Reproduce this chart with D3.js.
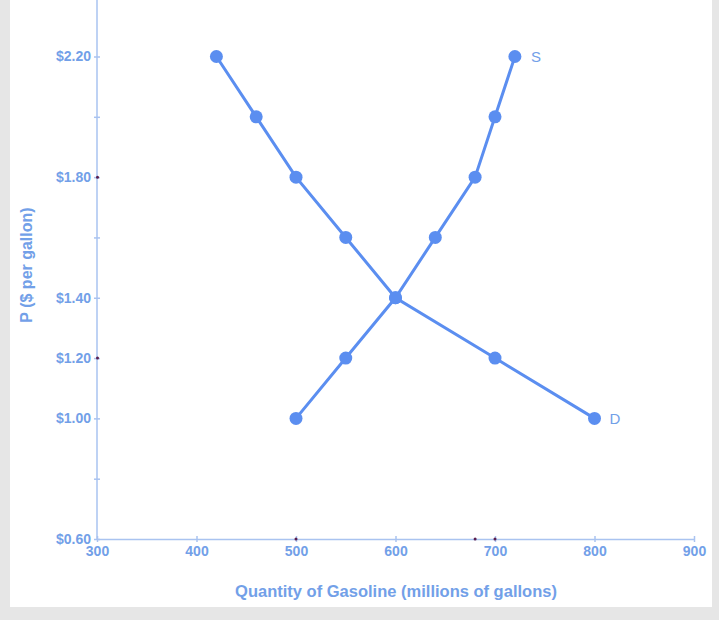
<!DOCTYPE html>
<html><head><meta charset="utf-8">
<script src="https://cdn.jsdelivr.net/npm/d3@7"></script>
<style>html,body{margin:0;padding:0;background:#e6e6e6;}svg{display:block;}</style>
</head><body>
<script>
const demandQ = [420, 460, 500, 550, 600, 700, 800];
const demandP = [2.2, 2.0, 1.8, 1.6, 1.4, 1.2, 1.0];
const supplyQ = [500, 550, 600, 640, 680, 700, 720];
const supplyP = [1.0, 1.2, 1.4, 1.6, 1.8, 2.0, 2.2];
const xTicks = [300, 400, 500, 600, 700, 800, 900];
const yTicks = [0.6, 0.8, 1.0, 1.2, 1.4, 1.6, 1.8, 2.0, 2.2];
const yLabelled = [0.6, 1.0, 1.2, 1.4, 1.8, 2.2];
const markerX = [500, 680, 700];
const markerY = [1.8, 1.2];

const W = 719, H = 620;
const blue = "#5b8ef0", textBlue = "#72a0e8", axisBlue = "#a9c3f0";
const svg = d3.select("body").append("svg").attr("width", W).attr("height", H);
svg.append("rect").attr("x", 0).attr("y", 0).attr("width", W).attr("height", H).attr("fill", "#e6e6e6");
svg.append("rect").attr("x", 10).attr("y", 0).attr("width", 702).attr("height", 607).attr("fill", "#fff");

const x = d3.scaleLinear().domain([300, 900]).range([97, 694]);
const y = d3.scaleLinear().domain([0.6, 2.2]).range([539, 56.5]);
const font = "Liberation Sans, Arial, sans-serif";

svg.append("line").attr("x1", x(300)).attr("x2", x(300)).attr("y1", 0).attr("y2", y(0.6))
  .attr("stroke", axisBlue).attr("stroke-width", 1.5);

const yAxis = d3.axisLeft(y).tickValues(yTicks).tickSize(4).tickSizeOuter(0)
  .tickFormat(d => yLabelled.some(v => Math.abs(v - d) < 1e-9) ? "$" + d.toFixed(2) : "");
const gy = svg.append("g").attr("transform", `translate(${x(300)},0)`).call(yAxis);
gy.select(".domain").remove();
gy.selectAll(".tick line").attr("stroke", axisBlue).attr("stroke-width", 1.5).attr("x2", 3).attr("x1", -3);
gy.selectAll(".tick text").attr("x", -6).attr("fill", textBlue).attr("font-family", font)
  .attr("font-size", 14).attr("font-weight", "bold");

const xAxis = d3.axisBottom(x).tickValues(xTicks).tickSize(4).tickSizeOuter(0).tickFormat(d3.format("d"));
const gx = svg.append("g").attr("transform", `translate(0,${y(0.6)})`).call(xAxis);
gx.select(".domain").attr("stroke", axisBlue).attr("stroke-width", 1.5);
gx.selectAll(".tick line").attr("stroke", axisBlue).attr("stroke-width", 1.5).attr("y1", -3).attr("y2", 3);
gx.selectAll(".tick text").attr("y", 7).attr("fill", textBlue).attr("font-family", font)
  .attr("font-size", 14).attr("font-weight", "bold");

svg.selectAll(".mx").data(markerX).enter().append("circle")
  .attr("cx", d => x(d)).attr("cy", y(0.6)).attr("r", 1.5).attr("fill", "#5a1e4e");
svg.selectAll(".my").data(markerY).enter().append("circle")
  .attr("cx", x(300) + 0.5).attr("cy", d => y(d)).attr("r", 1.5).attr("fill", "#5a1e4e");

const line = d3.line().x(d => x(d[0])).y(d => y(d[1]));
const demand = demandQ.map((q, i) => [q, demandP[i]]);
const supply = supplyQ.map((q, i) => [q, supplyP[i]]);
[demand, supply].forEach(s => {
  svg.append("path").datum(s).attr("d", line).attr("fill", "none")
    .attr("stroke", blue).attr("stroke-width", 3);
  svg.selectAll(null).data(s).enter().append("circle")
    .attr("cx", d => x(d[0])).attr("cy", d => y(d[1])).attr("r", 6.5).attr("fill", blue);
});

svg.append("text").attr("x", x(720) + 16).attr("y", y(2.2)).attr("dy", "0.35em")
  .attr("fill", textBlue).attr("font-family", font).attr("font-size", 15).text("S");
svg.append("text").attr("x", x(800) + 15).attr("y", y(1.0)).attr("dy", "0.35em")
  .attr("fill", textBlue).attr("font-family", font).attr("font-size", 15).text("D");

svg.append("text").attr("x", 396).attr("y", 597).attr("text-anchor", "middle")
  .attr("fill", textBlue).attr("font-family", font).attr("font-size", 16.5).attr("font-weight", "bold")
  .text("Quantity of Gasoline (millions of gallons)");
svg.append("text").attr("transform", "translate(32,265) rotate(-90)").attr("text-anchor", "middle")
  .attr("fill", textBlue).attr("font-family", font).attr("font-size", 16).attr("font-weight", "bold")
  .text("P ($ per gallon)");
</script>
</body></html>
